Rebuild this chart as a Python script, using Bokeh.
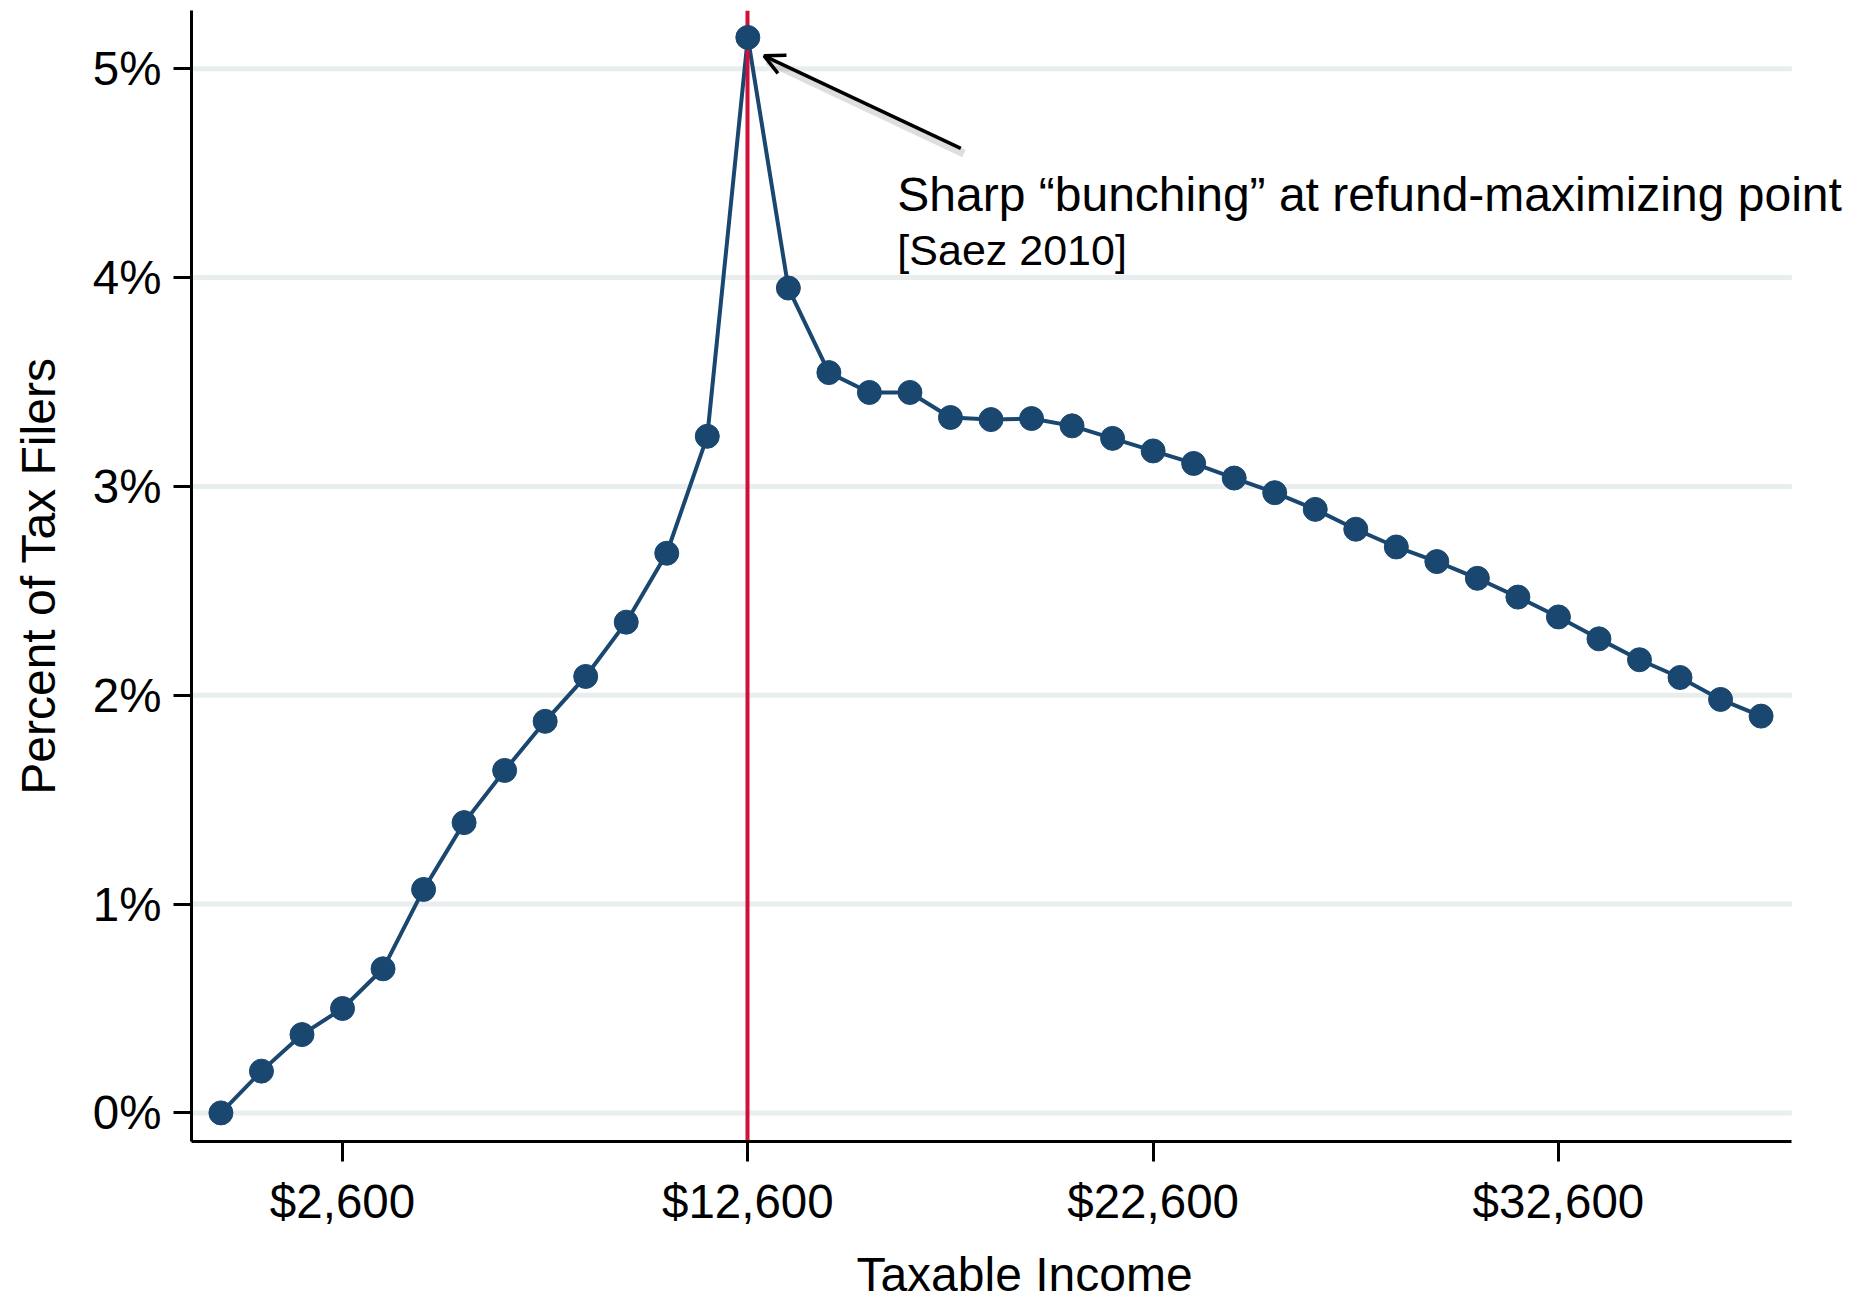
from bokeh.plotting import figure
from bokeh.models import (Range1d, FixedTicker, NumeralTickFormatter, PrintfTickFormatter,
                          Label, Arrow, OpenHead)
from bokeh.embed import file_html
from bokeh.resources import INLINE

# ---- data ----
income = [-400, 600, 1600, 2600, 3600, 4600, 5600, 6600, 7600, 8600, 9600, 10600, 11600,
          12600, 13600, 14600, 15600, 16600, 17600, 18600, 19600, 20600, 21600, 22600,
          23600, 24600, 25600, 26600, 27600, 28600, 29600, 30600, 31600, 32600, 33600,
          34600, 35600, 36600, 37600]
pct_filers = [0.00, 0.20, 0.375, 0.50, 0.69, 1.07, 1.39, 1.64, 1.875, 2.09, 2.35, 2.68, 3.24,
              5.15, 3.95, 3.545, 3.45, 3.45, 3.33, 3.32, 3.325, 3.29, 3.23, 3.17,
              3.11, 3.04, 2.97, 2.89, 2.795, 2.71, 2.64, 2.56, 2.47, 2.375, 2.27,
              2.17, 2.085, 1.98, 1.90]
x_ticks = [2600, 12600, 22600, 32600]
y_ticks = [0, 1, 2, 3, 4, 5]
kink = 12600
note_main = "Sharp \u201cbunching\u201d at refund-maximizing point"
note_sub = "[Saez 2010]"
x_label = "Taxable Income"
y_label = "Percent of Tax Filers"

# ---- layout / style ----
X_START, X_AXIS_END, X_END = -1126, 38359, 39979
Y_START, Y_END = -0.137, 5.279
NAVY = "#1A476F"
RED = "#D0103A"
GRID = "#E8EEED"
FONT = "Liberation Sans"

p = figure(width=1857, height=1303, output_backend="svg", toolbar_location=None,
           x_range=Range1d(X_START, X_END), y_range=Range1d(Y_START, Y_END),
           min_border_left=191, min_border_right=0, min_border_top=10, min_border_bottom=161)
p.outline_line_color = None
p.background_fill_color = "white"
p.border_fill_color = "white"
p.xgrid.visible = False
p.ygrid.visible = False

for ax in (p.xaxis[0], p.yaxis[0]):
    ax.axis_line_width = 3
    ax.axis_line_color = "black"
    ax.major_tick_line_width = 3
    ax.major_tick_line_color = "black"
    ax.major_tick_in = 0
    ax.minor_tick_line_color = None
    ax.major_label_text_font = FONT
    ax.major_label_text_font_size = "47.5px"
    ax.major_label_text_color = "black"
    ax.axis_label_text_font = FONT
    ax.axis_label_text_font_size = "48px"
    ax.axis_label_text_font_style = "normal"
    ax.axis_label_text_color = "black"

p.xaxis.ticker = FixedTicker(ticks=x_ticks)
p.xaxis.formatter = NumeralTickFormatter(format="$0,0")
p.xaxis.bounds = (X_START, X_AXIS_END)
p.xaxis.major_tick_out = 20
p.xaxis.major_label_standoff = 13
p.xaxis.axis_label = x_label
p.xaxis.axis_label_standoff = 17

p.yaxis.ticker = FixedTicker(ticks=y_ticks)
p.yaxis.formatter = PrintfTickFormatter(format="%d%%")
p.yaxis.major_tick_out = 18
p.yaxis.major_label_standoff = 12
p.yaxis.axis_label = y_label
p.yaxis.axis_label_standoff = 25

# horizontal gridlines (stop at the end of the x axis)
p.segment(x0=[X_START] * len(y_ticks), x1=[X_AXIS_END] * len(y_ticks),
          y0=y_ticks, y1=y_ticks, line_color=GRID, line_width=5)

# series line
p.line(income, pct_filers, line_color=NAVY, line_width=4)
# refund-maximizing kink
p.vspan(x=[kink], line_color=RED, line_width=4)
# markers
p.scatter(income, pct_filers, size=24, fill_color=NAVY, line_color=NAVY, line_width=1)

# arrow shadow + arrow
p.add_layout(Arrow(end=None, x_start=17935, y_start=4.594, x_end=13080, y_end=5.038,
                   line_color="#000000", line_alpha=0.13, line_width=8))
p.add_layout(Arrow(end=OpenHead(size=20, line_width=3.5, line_color="black"),
                   x_start=17855, y_start=4.619, x_end=13002, y_end=5.062,
                   line_color="black", line_width=3.5))

p.add_layout(Label(x=16289, y=4.40, text=note_main, text_font=FONT,
                   text_font_size="48px", text_color="black", text_baseline="middle"))
p.add_layout(Label(x=16289, y=4.13, text=note_sub, text_font=FONT,
                   text_font_size="43px", text_color="black", text_baseline="middle"))

open("out.html", "w").write(file_html(p, INLINE))
